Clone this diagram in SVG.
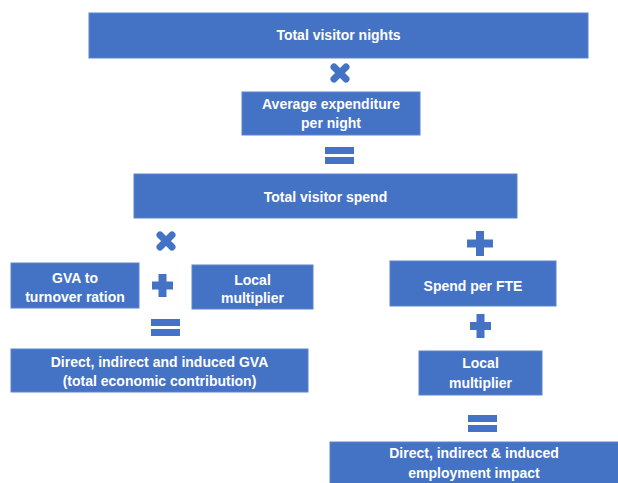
<svg xmlns="http://www.w3.org/2000/svg" width="618" height="483" viewBox="0 0 618 483">
<style>
.box{fill:#4472C4;stroke:#5b84cc;stroke-width:1}
.t{fill:#ffffff;font-family:"Liberation Sans",Arial,sans-serif;font-weight:bold;font-size:14px;text-anchor:middle}
.op{stroke:#4472C4;fill:none}
.x{stroke-width:7;stroke-linecap:round}
.p{stroke-width:8}
.eq{fill:#4472C4}
</style>
<rect width="618" height="483" fill="#ffffff"/>
<g id="n-nights"><rect class="box" x="89" y="13" width="499" height="45"/><text class="t" x="338.5" y="40">Total visitor nights</text></g>
<g id="n-avg"><rect class="box" x="242" y="92" width="178" height="43"/><text class="t" x="331" y="109">Average expenditure</text><text class="t" x="331" y="128">per night</text></g>
<g id="n-spend"><rect class="box" x="134" y="174" width="383" height="44"/><text class="t" x="325.5" y="202">Total visitor spend</text></g>
<g id="n-gva"><rect class="box" x="11" y="263" width="128" height="45"/><text class="t" x="75" y="283">GVA to</text><text class="t" x="75" y="302">turnover ration</text></g>
<g id="n-local1"><rect class="box" x="192" y="265" width="121" height="44"/><text class="t" x="252.5" y="285">Local</text><text class="t" x="252.5" y="303">multiplier</text></g>
<g id="n-gvaout"><rect class="box" x="11" y="349" width="297" height="43"/><text class="t" x="159.5" y="367">Direct, indirect and induced GVA</text><text class="t" x="159.5" y="386">(total economic contribution)</text></g>
<g id="n-fte"><rect class="box" x="390" y="261" width="166" height="45"/><text class="t" x="473" y="291">Spend per FTE</text></g>
<g id="n-local2"><rect class="box" x="419" y="351" width="123" height="44"/><text class="t" x="480.5" y="368">Local</text><text class="t" x="480.5" y="388">multiplier</text></g>
<g id="n-emp"><rect class="box" x="330" y="442" width="290" height="45"/><text class="t" x="474" y="458">Direct, indirect &amp; induced</text><text class="t" x="474" y="478">employment impact</text></g>
<g id="connectors">
<path class="op x" d="M334 67L346 79M346 67L334 79"/>
<rect class="eq" x="325" y="147" width="29" height="7"/><rect class="eq" x="325" y="157" width="29" height="7"/>
<path class="op x" d="M160 235L172 247M172 235L160 247"/>
<path class="op p" d="M467 243.5H493M480 231V256"/>
<path class="op p" d="M152 285.5H173M162.5 274V297"/>
<rect class="eq" x="151" y="319" width="29" height="7"/><rect class="eq" x="151" y="329" width="29" height="7"/>
<path class="op p" d="M470 326H491M480.5 314V338"/>
<rect class="eq" x="468" y="415" width="29" height="7"/><rect class="eq" x="468" y="425" width="29" height="7"/>
</g>
</svg>
